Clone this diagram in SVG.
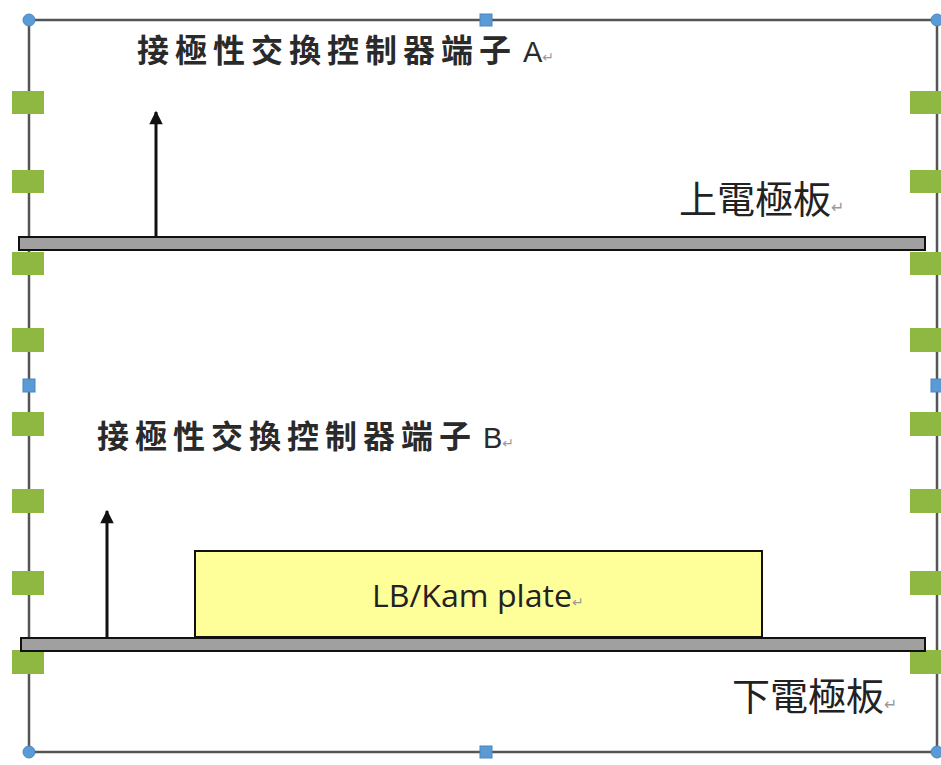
<svg xmlns="http://www.w3.org/2000/svg" width="941" height="765" viewBox="0 0 941 765">
<style>
.frame{fill:none;stroke:#555;stroke-width:2.5}
.grip{fill:#8fb843}
.hc{fill:#5b9bd5;stroke:#4a86c0;stroke-width:1}
.plate{fill:#a0a0a0;stroke:#111;stroke-width:2}
.arr{stroke:#111;stroke-width:3;fill:none}
.cjk{font-family:"Noto Sans CJK TC",sans-serif;fill:#2a2a2a;font-weight:bold}
.lab{font-family:"Noto Sans CJK TC",sans-serif;fill:#222}
.ret{fill:#999;font-family:"DejaVu Sans",sans-serif;font-weight:normal}
.lat{font-family:"Liberation Sans",sans-serif;font-weight:normal}
</style>
<defs>
<marker id="ah" viewBox="0 0 10 10" refX="9" refY="5" markerWidth="6" markerHeight="4.5" orient="auto" markerUnits="strokeWidth">
<path d="M0,0 L10,5 L0,10 Z" fill="#111"/>
</marker>
</defs>
<rect width="941" height="765" fill="#fff"/>
<g id="frame">
<rect class="frame" x="29" y="20" width="908" height="732"/>
<g class="grip">
<rect x="12" y="91" width="32" height="23"/>
<rect x="12" y="170" width="32" height="23"/>
<rect x="12" y="252" width="32" height="23"/>
<rect x="12" y="328" width="32" height="24"/>
<rect x="12" y="412" width="32" height="24"/>
<rect x="12" y="489" width="32" height="24"/>
<rect x="12" y="571" width="32" height="24"/>
<rect x="12" y="650" width="32" height="24"/>
<rect x="910" y="91" width="31" height="23"/>
<rect x="910" y="170" width="31" height="23"/>
<rect x="910" y="252" width="31" height="23"/>
<rect x="910" y="328" width="31" height="24"/>
<rect x="910" y="412" width="31" height="24"/>
<rect x="910" y="489" width="31" height="24"/>
<rect x="910" y="571" width="31" height="24"/>
<rect x="910" y="650" width="31" height="24"/>
</g>
<circle class="hc" cx="29" cy="20" r="6"/>
<circle class="hc" cx="937" cy="20" r="6"/>
<circle class="hc" cx="29" cy="752" r="6"/>
<circle class="hc" cx="937" cy="752" r="6"/>
<rect class="hc" x="480" y="14" width="12" height="12"/>
<rect class="hc" x="480" y="746" width="12" height="12"/>
<rect class="hc" x="23" y="379" width="12" height="13"/>
<rect class="hc" x="931" y="379" width="12" height="13"/>
</g>
<g id="upper-plate">
<rect class="plate" x="19" y="237" width="906" height="13"/>
<text class="lab" x="679" y="213" font-size="38">上電極板<tspan class="ret" font-size="16">↵</tspan></text>
</g>
<g id="lower-plate">
<rect class="plate" x="21" y="638" width="904" height="13"/>
<text class="lab" x="732" y="710" font-size="38">下電極板<tspan class="ret" font-size="16">↵</tspan></text>
</g>
<g id="lb-plate">
<rect x="195" y="551" width="567" height="86" fill="#ffff99" stroke="#111" stroke-width="2"/>
<text x="372" y="607" font-size="31" font-family="'Open Sans','Liberation Sans',sans-serif" fill="#222"><tspan textLength="200" lengthAdjust="spacingAndGlyphs">LB/Kam plate</tspan><tspan class="ret" font-size="14">↵</tspan></text>
</g>
<g id="terminal-a">
<text class="cjk" x="137" y="62" font-size="32" letter-spacing="6">接極性交換控制器端子<tspan class="lat" dx="6" letter-spacing="0" font-size="29">A</tspan><tspan class="ret" font-size="14" letter-spacing="0">↵</tspan></text>
</g>
<g id="terminal-b">
<text class="cjk" x="97" y="448" font-size="32" letter-spacing="6">接極性交換控制器端子<tspan class="lat" dx="6" letter-spacing="0" font-size="29">B</tspan><tspan class="ret" font-size="14" letter-spacing="0">↵</tspan></text>
</g>
<g id="connectors">
<line class="arr" x1="156" y1="237" x2="156" y2="112" marker-end="url(#ah)"/>
<line class="arr" x1="107" y1="638" x2="107" y2="511" marker-end="url(#ah)"/>
</g>
</svg>
